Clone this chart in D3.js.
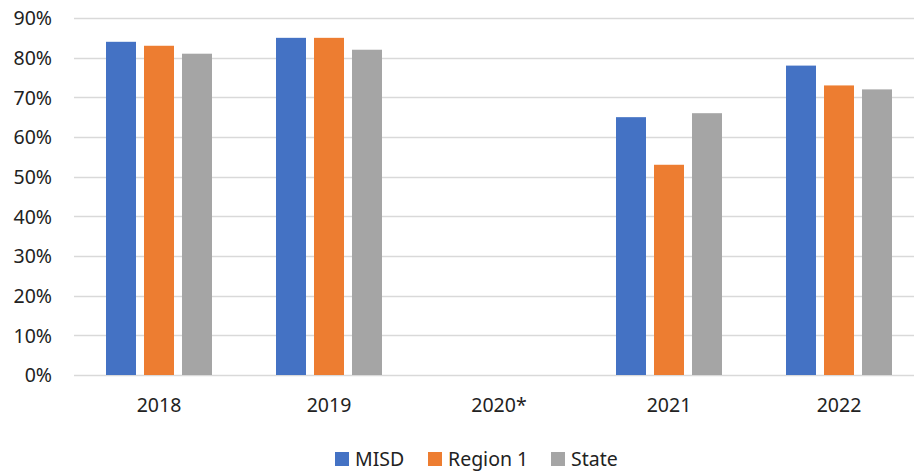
<!DOCTYPE html>
<html><head><meta charset="utf-8">
<script src="https://cdn.jsdelivr.net/npm/d3@7"></script>
<style>body{margin:0;background:#fff}svg{display:block}text{font-family:"Noto Sans","Open Sans",sans-serif;fill:#222}</style>
</head><body>
<svg id="c" width="914" height="473"></svg>
<script>
const years = ["2018","2019","2020*","2021","2022"];
const seriesNames = ["MISD","Region 1","State"];
const misd = [0.84,0.85,null,0.65,0.78];
const region1 = [0.83,0.85,null,0.53,0.73];
const state = [0.81,0.82,null,0.66,0.72];
const yTicks = [0,0.1,0.2,0.3,0.4,0.5,0.6,0.7,0.8,0.9];
const colors = ["#4472C4","#ED7D31","#A5A5A5"];
const values = [misd, region1, state];

(function(){
const svg = d3.select("#c");
const pLeft = 74, pRight = 924, pTop = 18, pBottom = 375;
const y = d3.scaleLinear().domain([0,0.9]).range([pBottom, pTop]);
const x0 = d3.scaleBand().domain(years).range([pLeft,pRight]).paddingInner(64/170).paddingOuter(32/170);
const x1 = d3.scaleBand().domain(seriesNames).range([0, x0.bandwidth()]).paddingInner(8/38).paddingOuter(0);

svg.append("g").selectAll("line").data(yTicks).join("line")
  .attr("x1", pLeft).attr("x2", pRight)
  .attr("y1", d => Math.round(y(d))+0.5).attr("y2", d => Math.round(y(d))+0.5)
  .attr("stroke", "#d9d9d9").attr("stroke-width", 1.3);

const yAxis = d3.axisLeft(y).tickValues(yTicks).tickFormat(d3.format(".0%")).tickSize(0).tickPadding(0);
const ya = svg.append("g").attr("transform", "translate(52,0)").call(yAxis);
ya.select(".domain").remove();
ya.selectAll("text").attr("font-size", 19.5).attr("font-family", '"Noto Sans","Open Sans",sans-serif').attr("fill","#222").attr("dy","0.35em");

seriesNames.forEach((s, si) => {
  const data = years.map((yr, i) => ({yr, v: values[si][i]})).filter(d => d.v != null);
  svg.append("g").selectAll("rect").data(data).join("rect")
    .attr("x", d => x0(d.yr) + x1(s))
    .attr("width", x1.bandwidth())
    .attr("y", d => y(d.v))
    .attr("height", d => y(0) - y(d.v))
    .attr("fill", colors[si]);
});

const xAxis = d3.axisBottom(x0).tickSize(0).tickPadding(0);
const xa = svg.append("g").attr("transform", "translate(0,405)").call(xAxis);
xa.select(".domain").remove();
xa.selectAll("text").attr("font-size", 19.5).attr("font-family", '"Noto Sans","Open Sans",sans-serif').attr("fill","#222").attr("dy","0.35em");

const legX = [335, 428, 551];
const lg = svg.append("g");
seriesNames.forEach((s, i) => {
  lg.append("rect").attr("x", legX[i]).attr("y", 452).attr("width", 14).attr("height", 14).attr("fill", colors[i]);
  lg.append("text").attr("x", legX[i] + 20).attr("y", 459).attr("dy","0.35em").attr("font-size", 19.5).text(s);
});
})();
</script>
</body></html>
